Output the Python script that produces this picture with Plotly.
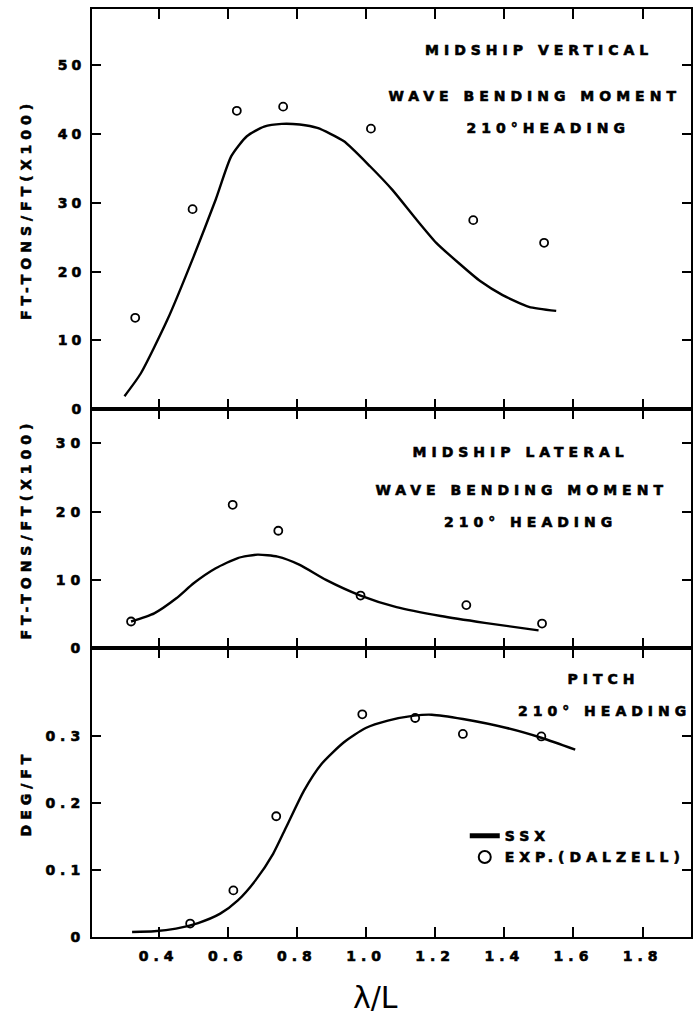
import plotly.graph_objects as go
from plotly.subplots import make_subplots

# ---------------- data ----------------
# Panel 1: midship vertical wave bending moment (FT-TONS/FT x100)
vbm_ssx_x = [0.301, 0.348, 0.425, 0.501, 0.565, 0.610, 0.655, 0.705, 0.756, 0.808, 0.859,
             0.935, 1.012, 1.076, 1.139, 1.203, 1.267, 1.331, 1.395, 1.471, 1.550]
vbm_ssx_y = [1.9, 5.2, 13.0, 22.2, 30.5, 36.8, 39.7, 41.1, 41.5, 41.4, 40.9,
             39.0, 35.3, 31.9, 28.0, 24.2, 21.3, 18.6, 16.6, 14.9, 14.3]
vbm_exp_x = [0.332, 0.498, 0.626, 0.760, 1.014, 1.310, 1.515]
vbm_exp_y = [13.3, 29.1, 43.4, 44.0, 40.8, 27.5, 24.2]

# Panel 2: midship lateral wave bending moment (FT-TONS/FT x100)
lbm_ssx_x = [0.320, 0.387, 0.451, 0.501, 0.565, 0.629, 0.686, 0.744, 0.808, 0.884, 0.984,
             1.088, 1.216, 1.343, 1.499]
lbm_ssx_y = [3.9, 5.1, 7.3, 9.5, 11.7, 13.2, 13.7, 13.4, 12.2, 10.0, 7.7,
             6.0, 4.7, 3.7, 2.6]
lbm_exp_x = [0.320, 0.614, 0.746, 0.984, 1.290, 1.509]
lbm_exp_y = [3.9, 21.0, 17.2, 7.7, 6.3, 3.6]

# Panel 3: pitch (DEG/FT)
pitch_ssx_x = [0.323, 0.387, 0.450, 0.514, 0.578, 0.629, 0.680, 0.731, 0.769, 0.820, 0.871,
               0.935, 0.999, 1.063, 1.139, 1.190, 1.280, 1.407, 1.509, 1.605]
pitch_ssx_y = [0.0074, 0.0085, 0.0125, 0.0208, 0.0348, 0.0546, 0.0844, 0.124, 0.164, 0.218, 0.258,
               0.290, 0.3116, 0.3225, 0.330, 0.3314, 0.325, 0.3116, 0.2967, 0.2793]
pitch_exp_x = [0.491, 0.616, 0.740, 0.989, 1.142, 1.280, 1.507]
pitch_exp_y = [0.020, 0.0695, 0.180, 0.332, 0.3265, 0.3027, 0.299]

x_tickvals = [0.4, 0.6, 0.8, 1.0, 1.2, 1.4, 1.6, 1.8]
x_ticktext = ["0.4", "0.6", "0.8", "1.0", "1.2", "1.4", "1.6", "1.8"]
y1_tickvals = [0, 10, 20, 30, 40, 50]
y1_ticktext = ["0", "10", "20", "30", "40", "50"]
y2_tickvals = [0, 10, 20, 30]
y2_ticktext = ["0", "10", "20", "30"]
y3_tickvals = [0, 0.1, 0.2, 0.3]
y3_ticktext = ["0", "0.1", "0.2", "0.3"]

# ---------------- figure ----------------
FONT = "DejaVu Sans"


def bold(s):
    return "<b>" + s + "</b>"


fig = make_subplots(rows=3, cols=1, shared_xaxes=True, vertical_spacing=0,
                    row_heights=[400, 238.7, 288.7])

line_style = dict(color="black", width=2.4, shape="spline", smoothing=0.6)
marker_style = dict(symbol="circle-open", size=8, color="black", line=dict(width=1.8, color="black"))

panels = [(vbm_ssx_x, vbm_ssx_y, vbm_exp_x, vbm_exp_y),
          (lbm_ssx_x, lbm_ssx_y, lbm_exp_x, lbm_exp_y),
          (pitch_ssx_x, pitch_ssx_y, pitch_exp_x, pitch_exp_y)]
for i, (lx, ly, ex, ey) in enumerate(panels, start=1):
    show = (i == 3)
    fig.add_trace(go.Scatter(x=lx, y=ly, mode="lines", line=line_style, name=bold("SSX"),
                             legendgroup="ssx", showlegend=show, hoverinfo="skip"), row=i, col=1)
    fig.add_trace(go.Scatter(x=ex, y=ey, mode="markers", marker=marker_style,
                             name=bold("EXP.(DALZELL)"), legendgroup="exp",
                             showlegend=show, hoverinfo="skip"), row=i, col=1)

tickfont = dict(family=FONT, size=14, color="black", weight="bold")
for i in range(1, 4):
    fig.update_xaxes(row=i, col=1, range=[0.207, 1.94], showline=True, linecolor="black",
                     linewidth=2.4, mirror="ticks", ticks="inside", ticklen=10, tickwidth=1.6,
                     tickcolor="black", tickvals=x_tickvals, ticktext=[bold(t) for t in x_ticktext],
                     showgrid=False, zeroline=False, tickfont=tickfont,
                     showticklabels=(i == 3), ticklabelstandoff=5)

common_y = dict(showline=True, linecolor="black", linewidth=2, mirror="ticks", ticks="inside",
                ticklen=9, tickwidth=1.6, tickcolor="black", showgrid=False, zeroline=False,
                tickfont=tickfont, ticklabelstandoff=2)
fig.update_yaxes(row=1, col=1, range=[0, 58.2], tickvals=y1_tickvals,
                 ticktext=[bold(t) for t in y1_ticktext], **common_y)
fig.update_yaxes(row=2, col=1, range=[0, 35.0], tickvals=y2_tickvals,
                 ticktext=[bold(t) for t in y2_ticktext], **common_y)
fig.update_yaxes(row=3, col=1, range=[0, 0.4307], tickvals=y3_tickvals,
                 ticktext=[bold(t) for t in y3_ticktext], **common_y)

annfont = dict(family=FONT, size=14, color="black", weight="bold")
anns = [
    ("x", "y", 1.499, 52.3, "MIDSHIP VERTICAL"),
    ("x", "y", 1.490, 45.5, "WAVE BENDING MOMENT"),
    ("x", "y", 1.525, 40.9, "210°HEADING"),
    ("x2", "y2", 1.447, 28.8, "MIDSHIP LATERAL"),
    ("x2", "y2", 1.450, 23.1, "WAVE BENDING MOMENT"),
    ("x2", "y2", 1.476, 18.5, "210° HEADING"),
    ("x3", "y3", 1.687, 0.3845, "PITCH"),
    ("x3", "y3", 1.690, 0.3374, "210° HEADING"),
]
for xr, yr, x, y, t in anns:
    fig.add_annotation(xref=xr, yref=yr, x=x, y=y, text=bold(t), showarrow=False, font=annfont)

for yr, t in [("y domain", "FT-TONS/FT(X100)"), ("y2 domain", "FT-TONS/FT(X100)"),
              ("y3 domain", "DEG/FT")]:
    fig.add_annotation(xref="paper", yref=yr, x=-0.127, y=0.5, text=bold(t), textangle=-90,
                       showarrow=False, font=annfont)

fig.add_annotation(xref="paper", yref="paper", x=0.4725, y=-0.0866, text="λ/L",
                   showarrow=False, font=dict(family=FONT, size=30, color="black"))

fig.update_layout(
    width=693, height=1034,
    margin=dict(l=92, r=0, t=9, b=97, pad=0),
    paper_bgcolor="white", plot_bgcolor="white",
    showlegend=True,
    legend=dict(x=0.6223, y=0.1259, xanchor="left", yanchor="top", bgcolor="rgba(0,0,0,0)",
                font=dict(family=FONT, size=14, color="black", weight="bold"),
                itemsizing="constant", traceorder="normal", tracegroupgap=5),
)

post = """
var gd = document.getElementById('{plot_id}');
function applyLS(){
  gd.querySelectorAll('text').forEach(function(t){
    if (t.textContent.indexOf('\u03bb') >= 0) return;
    var tick = t.closest('.xtick') || t.closest('.ytick');
    t.style.letterSpacing = tick ? '4px' : '5px';
    t.style.stroke = 'black';
    t.style.strokeWidth = '0.6px';
  });
  gd.querySelectorAll('.legend [clip-path]').forEach(function(g){ g.removeAttribute('clip-path'); });
}
applyLS();
"""
fig.write_html("out.html", post_script=post)
